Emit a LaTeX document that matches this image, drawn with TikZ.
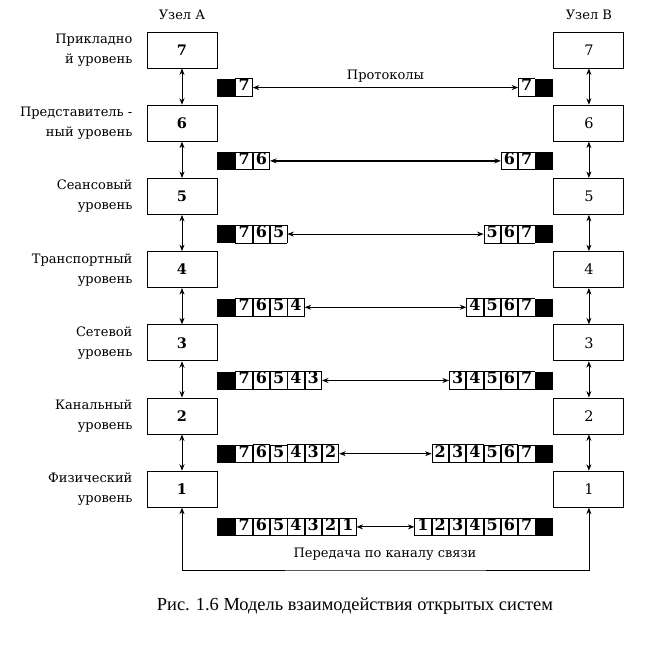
\documentclass[tikz,border=0pt]{standalone}
\usepackage{fontspec}
\setmainfont{DejaVu Serif}
\newfontfamily\capfont{Liberation Serif}
\usetikzlibrary{arrows.meta, positioning}
\tikzset{
  >={Stealth[length=6.5pt, width=5pt]},
  layer/.style={draw, line width=0.9pt, minimum width=70pt, minimum height=36pt, inner sep=0pt},
  nodeA/.style={layer, font=\fontsize{14.5}{14.5}\selectfont\bfseries},
  nodeB/.style={layer, font=\fontsize{14.5}{14.5}\selectfont},
  lbl/.style={align=right, inner sep=0pt, font=\fontsize{13}{20}\selectfont},
  pkt/.style={inner sep=0pt, outer sep=0pt},
  link/.style={<->, line width=0.8pt}
}
\setlength{\fboxsep}{0pt}
\setlength{\fboxrule}{0.8pt}
\newcommand{\blk}{\rule[-5.8pt]{18pt}{18pt}}
\newcommand{\cel}[1]{\fbox{\rule[-5pt]{0pt}{16.4pt}\makebox[15.7pt]{\fontsize{16}{16}\selectfont\bfseries #1}}}

\begin{document}
\begin{tikzpicture}[x=1pt, y=-1pt]
    \useasboundingbox (0,0) rectangle (665,661);

    % Узел A
    \node[nodeA] (a7) at (182,50) {7};
    \node[nodeA] (a6) [below=36.3pt of a7] {6};
    \node[nodeA] (a5) [below=36.3pt of a6] {5};
    \node[nodeA] (a4) [below=36.3pt of a5] {4};
    \node[nodeA] (a3) [below=36.3pt of a4] {3};
    \node[nodeA] (a2) [below=36.3pt of a3] {2};
    \node[nodeA] (a1) [below=36.3pt of a2] {1};
    \node[lbl] (hA) [above=12pt of a7] {Узел А};

    \node[lbl] (la7) [left=14pt of a7] {Прикладно\\й уровень};
    \node[lbl] (la6) [left=14pt of a6] {Представитель -\\ный уровень};
    \node[lbl] (la5) [left=14pt of a5] {Сеансовый\\уровень};
    \node[lbl] (la4) [left=14pt of a4] {Транспортный\\уровень};
    \node[lbl] (la3) [left=14pt of a3] {Сетевой\\уровень};
    \node[lbl] (la2) [left=14pt of a2] {Канальный\\уровень};
    \node[lbl] (la1) [left=14pt of a1] {Физический\\уровень};

    % Узел B
    \node[nodeB] (b7) [right=336pt of a7] {7};
    \node[nodeB] (b6) [below=36.3pt of b7] {6};
    \node[nodeB] (b5) [below=36.3pt of b6] {5};
    \node[nodeB] (b4) [below=36.3pt of b5] {4};
    \node[nodeB] (b3) [below=36.3pt of b4] {3};
    \node[nodeB] (b2) [below=36.3pt of b3] {2};
    \node[nodeB] (b1) [below=36.3pt of b2] {1};
    \node[lbl] (hB) [above=12pt of b7] {Узел В};

    % packets
    \node[pkt, anchor=north west] (p7a) at ([yshift=-10pt]a7.south east) {\blk\cel7};
    \node[pkt, anchor=north west] (p6a) at ([yshift=-10pt]a6.south east) {\blk\cel7\cel6};
    \node[pkt, anchor=north west] (p5a) at ([yshift=-10pt]a5.south east) {\blk\cel7\cel6\cel5};
    \node[pkt, anchor=north west] (p4a) at ([yshift=-10pt]a4.south east) {\blk\cel7\cel6\cel5\cel4};
    \node[pkt, anchor=north west] (p3a) at ([yshift=-10pt]a3.south east) {\blk\cel7\cel6\cel5\cel4\cel3};
    \node[pkt, anchor=north west] (p2a) at ([yshift=-10pt]a2.south east) {\blk\cel7\cel6\cel5\cel4\cel3\cel2};
    \node[pkt, anchor=north west] (p1a) at ([yshift=-10pt]a1.south east) {\blk\cel7\cel6\cel5\cel4\cel3\cel2\cel1};

    \node[pkt, anchor=north east] (p7b) at ([yshift=-10pt]b7.south west) {\cel7\blk};
    \node[pkt, anchor=north east] (p6b) at ([yshift=-10pt]b6.south west) {\cel6\cel7\blk};
    \node[pkt, anchor=north east] (p5b) at ([yshift=-10pt]b5.south west) {\cel5\cel6\cel7\blk};
    \node[pkt, anchor=north east] (p4b) at ([yshift=-10pt]b4.south west) {\cel4\cel5\cel6\cel7\blk};
    \node[pkt, anchor=north east] (p3b) at ([yshift=-10pt]b3.south west) {\cel3\cel4\cel5\cel6\cel7\blk};
    \node[pkt, anchor=north east] (p2b) at ([yshift=-10pt]b2.south west) {\cel2\cel3\cel4\cel5\cel6\cel7\blk};
    \node[pkt, anchor=north east] (p1b) at ([yshift=-10pt]b1.south west) {\cel1\cel2\cel3\cel4\cel5\cel6\cel7\blk};

    % layer to layer
    \draw[link] (a7) -- (a6);
    \draw[link] (a6) -- (a5);
    \draw[link] (a5) -- (a4);
    \draw[link] (a4) -- (a3);
    \draw[link] (a3) -- (a2);
    \draw[link] (a2) -- (a1);
    \draw[link] (b7) -- (b6);
    \draw[link] (b6) -- (b5);
    \draw[link] (b5) -- (b4);
    \draw[link] (b4) -- (b3);
    \draw[link] (b3) -- (b2);
    \draw[link] (b2) -- (b1);

    % protocols
    \draw[link] (p7a) -- node[lbl, above=5pt] (proto) {Протоколы} (p7b);
    \draw[link, line width=1.4pt] (p6a) -- (p6b);
    \draw[link] (p5a) -- (p5b);
    \draw[link] (p4a) -- (p4b);
    \draw[link, line width=1.4pt] (p3a) -- (p3b);
    \draw[link] (p2a) -- (p2b);
    \draw[link] (p1a) -- (p1b);

    % channel
    \coordinate (bus) at (385,570);
    \draw[link] (a1) |- (bus) -| (b1);
    \node[lbl] (chan) [above=9pt of bus] {Передача по каналу связи};

    \node[anchor=base, inner sep=0pt, font=\capfont\fontsize{18.4}{18.4}\selectfont] (cap) at (355,610) {Рис. 1.6 Модель взаимодействия открытых систем};
\end{tikzpicture}
\end{document}
